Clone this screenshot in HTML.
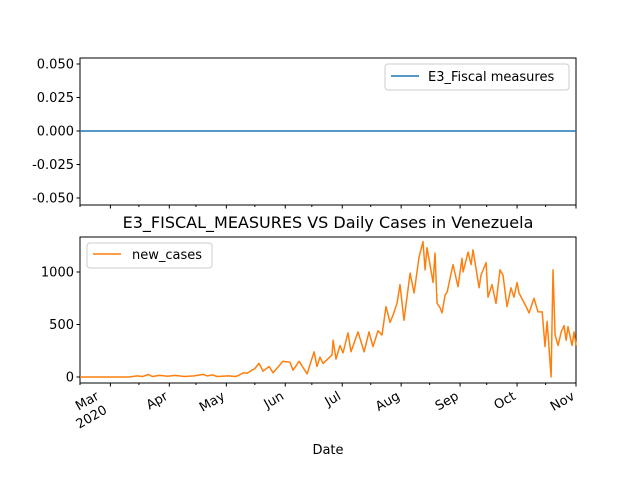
<!DOCTYPE html>
<html><head><meta charset="utf-8"><style>
body{margin:0;background:#fff}
svg{display:block;font-family:"DejaVu Sans","Liberation Sans",sans-serif}
</style></head><body>
<svg id="c" width="640" height="480"></svg>
<script>
const dayIndex=[0,26,30,33,36,38,42,46,50,55,60,65,67,70,72,78,82,84,86,88,90,92,94.2,96.3,99.5,101.6,106.8,110.5,112.1,115.3,119.5,123.2,124.7,126.3,127.9,132.6,133.2,134.7,136.8,138.4,141,142.6,146.3,149.5,152.1,154.2,156.8,158.9,161,163.2,164.7,166.8,168.4,170.5,173.7,175.8,178.4,180.5,181.6,182.6,185.8,186.8,187.9,189.5,190.5,192.1,193.2,196.3,198.9,201,201.6,204.2,205.8,206.8,210,211,213.7,214.7,216.8,218.9,221,222.6,224.7,226.8,228.4,230,231,234.2,236.3,238.9,241,243.2,244.7,245.8,247.9,248.9,250,251.6,253.2,254.7,255.8,256.8,258.9,260,261];
const newCases=[0,0,10,5,25,5,15,8,15,5,10,25,10,20,5,10,5,20,40,35,60,80,130,55,100,40,150,140,65,150,30,240,100,190,130,210,350,170,300,230,420,240,430,240,430,290,440,400,670,520,590,700,880,540,990,800,1140,1290,1020,1230,900,1180,700,660,610,780,810,1070,860,1130,1000,1190,1070,1210,850,970,1090,760,880,700,1020,970,670,850,760,900,800,690,610,750,620,620,290,530,0,1020,400,300,430,490,350,480,300,430,300];
const fiscal=[0,0];
const yTicksTop=[0.05,0.025,0,-0.025,-0.05];
const yTicksBot=[0,500,1000];
const months=["Mar","Apr","May","Jun","Jul","Aug","Sep","Oct","Nov"];
const monthDays=[16,47,77,108,138,169,200,230,261];
const minorDays=[0,31,61,92,122,153,184,214,245];
const svg=document.getElementById('c');const NS='http://www.w3.org/2000/svg';
function mk(t,a,p){const e=document.createElementNS(NS,t);for(const k in a)e.setAttribute(k,a[k]);(p||svg).appendChild(e);return e;}
const X0=80,X1=576,DMAX=261;
const xs=d=>X0+d*(X1-X0)/DMAX;
const T0=58,T1=205,yt=v=>131-v*(67/0.05);
const B0=237,B1=383,yb=v=>377-v*(105/1000);
let f=mk('rect',{x:X0,y:T0,width:X1-X0,height:T1-T0,fill:'none',stroke:'#000','stroke-width':1});

let l=mk('line',{x1:xs(dayIndex[0]),x2:xs(dayIndex[dayIndex.length-1]),y1:yt(fiscal[0]),y2:yt(fiscal[1]),stroke:'#1f77b4','stroke-width':1.5});

yTicksTop.forEach(v=>{mk('line',{x1:X0-3.5,x2:X0,y1:yt(v),y2:yt(v),stroke:'#000'});
 let t=mk('text',{x:X0-6,y:yt(v)+4.5,'text-anchor':'end','font-size':13,fill:'#000'});t.textContent=v.toFixed(3);
 });
f=mk('rect',{x:X0,y:B0,width:X1-X0,height:B1-B0,fill:'none',stroke:'#000','stroke-width':1});

let pts=dayIndex.map((d,i)=>xs(d).toFixed(1)+','+yb(newCases[i]).toFixed(1)).join(' ');
l=mk('polyline',{points:pts,fill:'none',stroke:'#ff7f0e','stroke-width':1.5,'stroke-linejoin':'round'});

yTicksBot.forEach(v=>{mk('line',{x1:X0-3.5,x2:X0,y1:yb(v),y2:yb(v),stroke:'#000'});
 let t=mk('text',{x:X0-6,y:yb(v)+4.5,'text-anchor':'end','font-size':13,fill:'#000'});t.textContent=v;
 });
[T1,B1].forEach(yy=>{
 monthDays.forEach(d=>mk('line',{x1:xs(d),x2:xs(d),y1:yy,y2:yy+3.5,stroke:'#000'}));
 minorDays.forEach(d=>mk('line',{x1:xs(d),x2:xs(d),y1:yy,y2:yy+2,stroke:'#000'}));
});
months.forEach((m,i)=>{const x=xs(monthDays[i]);
 if(i===0){
  const g=mk('g',{transform:`translate(${x-16},${B1+6}) rotate(-30)`});
  
  let t=mk('text',{x:0,y:11,'text-anchor':'end','font-size':13},g);t.textContent=m;
  let t2=mk('text',{x:0,y:27,'text-anchor':'end','font-size':13},g);t2.textContent='2020';
 } else {
  const g=mk('g',{transform:`translate(${x-6},${B1+6}) rotate(-30)`});
  
  let t=mk('text',{x:0,y:11,'text-anchor':'end','font-size':13},g);t.textContent=m;
 }
});
let t=mk('text',{x:328,y:454,'text-anchor':'middle','font-size':13});t.textContent='Date';

t=mk('text',{x:328,y:228,'text-anchor':'middle','font-size':16});t.textContent='E3_FISCAL_MEASURES VS Daily Cases in Venezuela';

let g=mk('g',{});
mk('rect',{x:385,y:64,width:184,height:26,rx:3,fill:'#fff',stroke:'#ccc'},g);
mk('line',{x1:391,x2:419,y1:76,y2:76,stroke:'#1f77b4','stroke-width':1.5},g);
t=mk('text',{x:428,y:81,'font-size':13},g);t.textContent='E3_Fiscal measures';
g=mk('g',{});
mk('rect',{x:87,y:243,width:125,height:25,rx:3,fill:'#fff',stroke:'#ccc'},g);
mk('line',{x1:93,x2:121,y1:254,y2:254,stroke:'#ff7f0e','stroke-width':1.5},g);
t=mk('text',{x:132,y:259,'font-size':13},g);t.textContent='new_cases';
</script>
</body></html>
